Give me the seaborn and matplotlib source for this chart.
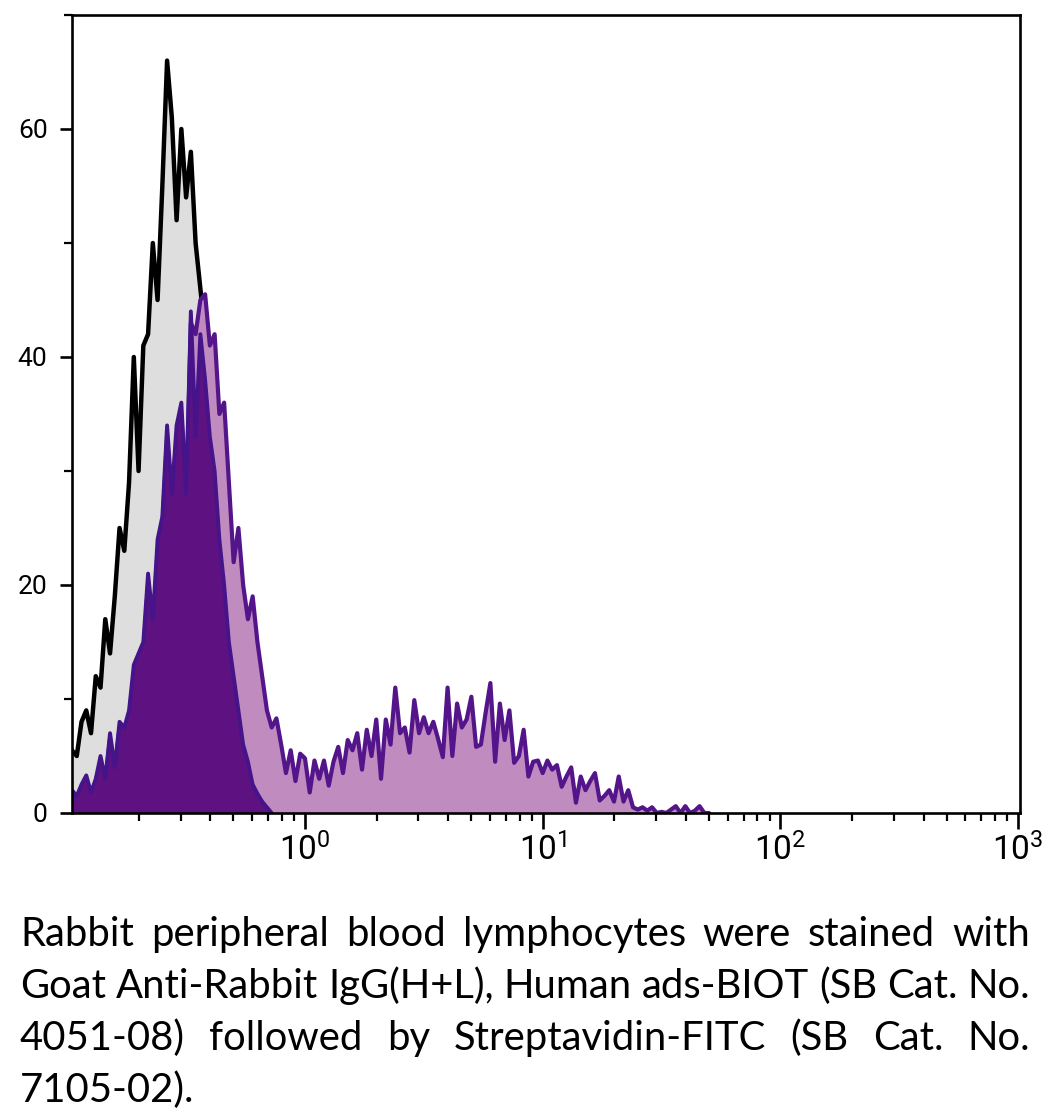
import numpy as np
import matplotlib
matplotlib.use("Agg")
import matplotlib.pyplot as plt
import seaborn as sns
from matplotlib import font_manager
from matplotlib.ticker import LogLocator, MultipleLocator, FixedLocator, NullFormatter

# histogram channels: log10 of first channel and channel spacing (decades)
log_start = -0.98
log_step = 0.02

# grey / black outline (control)
control_grey = [5.5, 5, 8, 9, 7, 12, 11, 17, 14, 19,
                25, 23, 29, 40, 30, 41, 42, 50, 45, 55,
                66, 61, 52, 60, 54, 58, 50, 46, 42, 36,
                30, 24, 18, 12, 7, 4, 2, 1, 0.5, 0, 0]

# dark purple filled (control)
control_dark = [2, 1.5, 2.5, 3.3, 1.8, 3, 5, 3, 7, 4,
                8, 7.5, 9, 13, 14, 15, 21, 17, 24, 26,
                34, 28, 34, 36, 28, 44, 33, 42, 38, 33,
                30, 24, 20, 15, 12, 9, 6, 4.5, 2.5, 1.7,
                1, 0.5, 0]

# light purple (stained sample)
stained = [1.5, 1.2, 2.2, 3, 1.5, 2.8, 4.5, 2.8, 6.5, 3.8,
           7.5, 6.5, 8.5, 12, 13, 14, 20, 16, 23, 25,
           33, 27, 33, 35, 27, 43, 42, 45, 45.5, 41,
           42, 35, 36, 29, 22, 25, 20, 17, 19, 15,
           12, 9, 7.5, 8.3, 6, 3.5, 5.5, 2.8, 5.2, 4.8,
           1.8, 4.6, 3, 4.6, 2.4, 4.5, 5.8, 3.5, 6.4, 5.5,
           7, 3.8, 7.3, 5, 8.2, 3, 8.2, 6, 11, 7,
           7.5, 5.3, 9.9, 7, 8.4, 7, 8, 6.5, 4.9, 11,
           5, 9.6, 7.5, 8.2, 10.2, 5.8, 6, 8.8, 11.4, 4.5,
           9.6, 6.4, 9, 4.4, 5, 7.3, 3.2, 4.5, 4.6, 3.5,
           4.6, 3.8, 4.2, 2.3, 3.2, 4, 0.9, 3.2, 2, 2.8,
           3.5, 1.1, 1.5, 2, 1, 3.2, 1, 2, 0.5, 0.3,
           0.5, 0.2, 0.5, 0, 0.1, 0, 0.3, 0.6, 0, 0.6,
           0, 0.2, 0.6, 0, 0]

y_ticks = [0, 20, 40, 60]

caption_lines = [
    "Rabbit peripheral blood lymphocytes were stained with",
    "Goat Anti-Rabbit IgG(H+L), Human ads-BIOT (SB Cat. No.",
    "4051-08) followed by Streptavidin-FITC (SB Cat. No.",
    "7105-02).",
]


def first_font(names):
    for n in names:
        try:
            font_manager.findfont(n, fallback_to_default=False)
            return n
        except Exception:
            pass
    return "DejaVu Sans"


sns.set_style("ticks")
tick_font = [first_font(["Liberation Sans Narrow", "Roboto"]), "DejaVu Sans"]
cap_font = ["Lato", "DejaVu Sans"]
plt.rcParams["font.family"] = tick_font
plt.rcParams["text.color"] = "black"
plt.rcParams["xtick.color"] = "black"
plt.rcParams["ytick.color"] = "black"

W, H = 1050, 1115
fig = plt.figure(figsize=(W / 100, H / 100), dpi=100)
ax = fig.add_axes([72 / W, 1 - 813 / H, (1020 - 72) / W, (813 - 15) / H])
ax.set_xscale("log")


def channels(vals):
    return 10 ** (log_start + log_step * np.arange(len(vals)))


series = [
    (control_grey, "#dedede", "#000000", 2, 3.2),
    (stained, "#c08cc0", "#55158a", 3, 3.0),
    (control_dark, "#5e1180", "#46148a", 4, 2.8),
]
for vals, fill, line, z, lw in series:
    x = channels(vals)
    ax.fill_between(x, vals, 0, color=fill, lw=0, zorder=z)
    sns.lineplot(x=x, y=vals, ax=ax, color=line, linewidth=lw, zorder=z + 0.1,
                 estimator=None, sort=False, solid_joinstyle="round")

ax.set_xlim(10 ** log_start, 10 ** 3.008)
ax.set_ylim(0, 70)
ax.set_xlabel("")
ax.set_ylabel("")

ax.xaxis.set_major_locator(LogLocator(base=10, numticks=10))
ax.xaxis.set_minor_locator(LogLocator(base=10, subs=range(2, 10), numticks=20))
ax.xaxis.set_minor_formatter(NullFormatter())
ax.yaxis.set_major_locator(FixedLocator(y_ticks))
ax.yaxis.set_minor_locator(MultipleLocator(10))

for s in ax.spines.values():
    s.set_linewidth(1.9)
    s.set_color("black")
    s.set_zorder(10)
ax.tick_params(axis="x", which="major", length=11.5, width=1.9, labelsize=24, pad=3)
ax.tick_params(axis="x", which="minor", length=5.8, width=1.6)
ax.tick_params(axis="y", which="major", length=8.6, width=1.9, labelsize=19, pad=9)
ax.tick_params(axis="y", which="minor", length=5.5, width=1.6)

# justified caption below the chart
renderer = fig.canvas.get_renderer()


def text_width(s, size):
    t = fig.text(0, 0, s, fontsize=size, family=cap_font)
    w = t.get_window_extent(renderer).width
    t.remove()
    return w


left_px, right_px = 20, 1030
cap_size = min(30 * (right_px - left_px) / text_width(l, 30) for l in caption_lines[:2])
baselines = [946, 998, 1050, 1102]
for i, (line, yb) in enumerate(zip(caption_lines, baselines)):
    words = line.split(" ")
    if i < len(caption_lines) - 1:
        widths = [text_width(w, cap_size) for w in words]
        gap = (right_px - left_px - sum(widths)) / (len(words) - 1)
        xpos = left_px
        for w, wd in zip(words, widths):
            fig.text(xpos / W, 1 - yb / H, w, fontsize=cap_size, family=cap_font,
                     va="baseline", ha="left", color="black")
            xpos += wd + gap
    else:
        fig.text(left_px / W, 1 - yb / H, line, fontsize=cap_size, family=cap_font,
                 va="baseline", ha="left", color="black")

fig.savefig("out.png", dpi=100)
